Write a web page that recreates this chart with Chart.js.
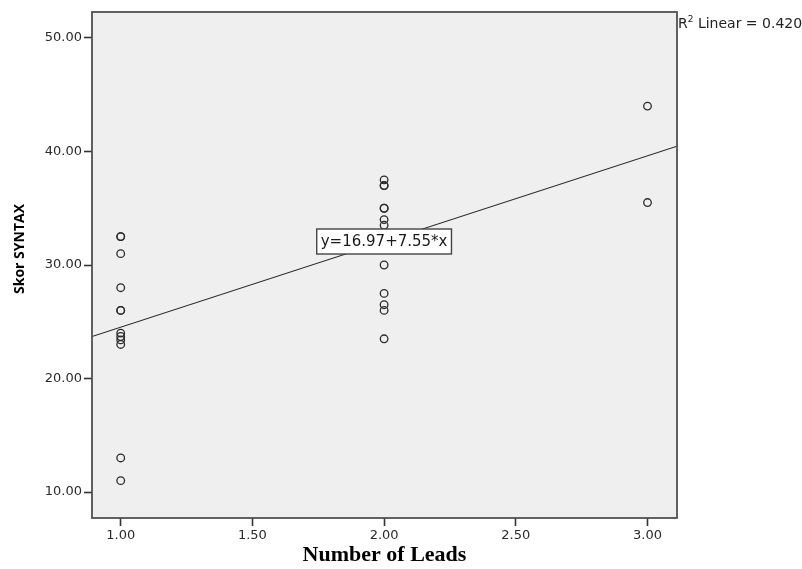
<!DOCTYPE html>
<html>
<head>
<meta charset="utf-8">
<script src="https://cdn.jsdelivr.net/npm/chart.js@4"></script>
<style>
  body { margin: 0; background: #fff; }
  canvas { display: block; }
</style>
</head>
<body>
<canvas id="grafico-syntax" width="802" height="569"></canvas>
<script>
// values
var leads1 = [1,1,1,1,1,1,1,1,1,1,1,1];
var skor1 = [32.5,32.5,31,28,26,26,24,23.7,23.4,23,13,11];
var leads2 = [2,2,2,2,2,2,2,2,2,2,2,2];
var skor2 = [37.5,37,37,35,35,34,33.5,30,27.5,26.5,26,23.5];
var leads3 = [3,3];
var skor3 = [44,35.5];

var xTicks = [1.0,1.5,2.0,2.5,3.0];
var yTicks = [10,20,30,40,50];
var xRange = [0.891,3.112];
var yRange = [7.71,52.29];

// fit line shown in the label
var fitCoef = [16.97,7.55];
var fitLabelAt = [2];
var rSquared = [0.420];

function toPoints(xs, ys){
    return xs.map(function(x, i){ return {x: x, y: ys[i]}; });
}

var pontos = toPoints(leads1, skor1).concat(toPoints(leads2, skor2), toPoints(leads3, skor3));
var linha = xRange.map(function(x){ return {x: x, y: fitCoef[0] + fitCoef[1] * x}; });

var plotBox = {
    id: 'plotBox',
    beforeDraw: function(chart){
        var a = chart.chartArea, c = chart.ctx;
        c.save();
        c.fillStyle = '#efefef';
        c.fillRect(a.left, a.top, a.right - a.left, a.bottom - a.top);
        c.restore();
    },
    afterDatasetsDraw: function(chart){
        var a = chart.chartArea, c = chart.ctx;
        var sx = chart.scales.x, sy = chart.scales.y;
        c.save();
        c.strokeStyle = '#505050';
        c.lineWidth = 1.8;
        c.strokeRect(a.left, a.top, a.right - a.left, a.bottom - a.top);

        // equation label
        var eq = 'y=' + fitCoef[0].toFixed(2) + '+' + fitCoef[1].toFixed(2) + '*x';
        var cx = sx.getPixelForValue(fitLabelAt[0]);
        var cy = sy.getPixelForValue(fitCoef[0] + fitCoef[1] * fitLabelAt[0]);
        c.font = '15px "DejaVu Sans"';
        var w = c.measureText(eq).width + 8, h = 25;
        c.fillStyle = '#fff';
        c.fillRect(cx - w / 2, cy - h / 2, w, h);
        c.lineWidth = 1.4;
        c.strokeStyle = '#444';
        c.strokeRect(cx - w / 2, cy - h / 2, w, h);
        c.fillStyle = '#1a1a1a';
        c.textAlign = 'center';
        c.textBaseline = 'middle';
        c.fillText(eq, cx, cy + 1);

        // R2 note
        c.textAlign = 'left';
        c.textBaseline = 'alphabetic';
        c.fillStyle = '#222';
        var tx = a.right + 1, ty = 28;
        c.font = '14px "DejaVu Sans"';
        c.fillText('R', tx, ty);
        tx += c.measureText('R').width;
        c.font = '9px "DejaVu Sans"';
        c.fillText('2', tx, ty - 6);
        tx += c.measureText('2').width;
        c.font = '14px "DejaVu Sans"';
        c.fillText(' Linear = ' + rSquared[0].toFixed(3), tx, ty);

        // axis titles
        c.fillStyle = '#000';
        c.font = 'bold 22px "Liberation Serif"';
        c.textAlign = 'center';
        c.fillText('Number of Leads', (a.left + a.right) / 2, 561);
        c.translate(20, 249);
        c.rotate(-Math.PI / 2);
        c.font = 'bold 14px "Open Sans"';
        c.textBaseline = 'middle';
        c.fillText('Skor SYNTAX', 0, 0);
        c.restore();
    }
};

var ctx = document.getElementById('grafico-syntax').getContext('2d');
var grafico = new Chart(ctx, {
    type: 'scatter',
    data: {
        datasets: [
            {
                label: 'Skor SYNTAX',
                data: pontos,
                pointStyle: 'circle',
                pointRadius: 3.8,
                pointBorderWidth: 1.3,
                pointBorderColor: '#2a2a2a',
                pointBackgroundColor: 'rgba(0,0,0,0)'
            },
            {
                label: 'Linear',
                type: 'line',
                data: linha,
                borderColor: '#2a2a2a',
                borderWidth: 1.2,
                pointRadius: 0,
                fill: false
            }
        ]
    },
    options: {
        responsive: false,
        animation: false,
        layout: { padding: { top: 12, right: 125, left: 0, bottom: 0 } },
        plugins: { legend: { display: false }, tooltip: { enabled: false } },
        scales: {
            x: {
                type: 'linear',
                min: xRange[0],
                max: xRange[1],
                afterBuildTicks: function(s){ s.ticks = xTicks.map(function(v){ return {value: v}; }); },
                afterFit: function(s){ s.height = 51; },
                border: { display: false },
                grid: { drawOnChartArea: false, tickLength: 8, tickColor: '#333', tickWidth: 1.6 },
                ticks: {
                    callback: function(v){ return Number(v).toFixed(2); },
                    font: { family: 'DejaVu Sans', size: 13 },
                    color: '#2a2a2a',
                    padding: 2,
                    maxRotation: 0,
                    autoSkip: false
                }
            },
            y: {
                type: 'linear',
                min: yRange[0],
                max: yRange[1],
                afterBuildTicks: function(s){ s.ticks = yTicks.map(function(v){ return {value: v}; }); },
                afterFit: function(s){ s.width = 92; },
                border: { display: false },
                grid: { drawOnChartArea: false, tickLength: 8, tickColor: '#333', tickWidth: 1.6 },
                ticks: {
                    callback: function(v){ return Number(v).toFixed(2); },
                    font: { family: 'DejaVu Sans', size: 13 },
                    color: '#2a2a2a',
                    padding: 2,
                    autoSkip: false
                }
            }
        }
    },
    plugins: [plotBox]
});
</script>
</body>
</html>
